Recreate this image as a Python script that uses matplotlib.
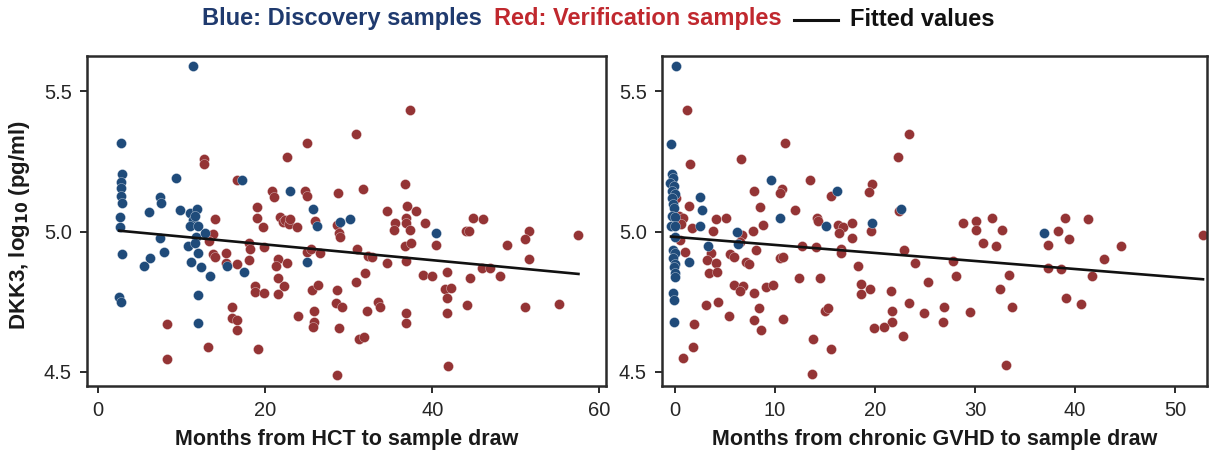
import matplotlib
matplotlib.use("Agg")
import matplotlib.pyplot as plt
from matplotlib import font_manager
from matplotlib.lines import Line2D

# ---------------- data ----------------
hct_blue_x = [11.3, 2.7, 2.9, 2.7, 2.7, 2.7, 2.8, 9.3, 17.2, 7.4, 7.5, 22.9, 25.7, 6.1, 9.8, 11.0, 11.8,
              2.6, 2.6, 11.4, 11.0, 12.0, 11.6, 26.2, 29.0, 30.1, 2.8, 2.5, 2.7, 7.4, 7.9, 6.2, 5.5,
              10.7, 11.7, 11.6, 12.8, 12.0, 11.1, 12.3, 13.4, 12.0, 12.0, 15.4, 17.4, 25.0, 40.5]
hct_blue_y = [5.59, 5.314, 5.205, 5.177, 5.154, 5.126, 5.10, 5.189, 5.183, 5.124, 5.10, 5.145, 5.079, 5.069,
              5.075, 5.065, 5.081, 5.053, 5.017, 5.041, 5.02, 5.02, 5.055, 5.02, 5.033, 5.043, 4.919, 4.768,
              4.75, 4.976, 4.928, 4.905, 4.878, 4.95, 4.98, 4.958, 4.996, 4.925, 4.893, 4.873, 4.843, 4.774,
              4.673, 4.877, 4.857, 4.893, 4.996]

hct_red_x = [12.7, 12.7, 22.6, 25.0, 16.6, 20.8, 21.1, 24.8, 25.0, 28.7, 19.0, 14.0, 19.0, 19.7, 21.8, 22.1,
             22.4, 22.8, 23.0, 23.8, 25.9, 28.6, 28.8, 29.0, 13.7, 13.2, 13.7, 14.0, 15.3, 15.3, 16.6, 18.0,
             18.2, 18.0, 19.8, 18.8, 18.8, 19.8, 21.5, 21.3, 22.6, 21.5, 22.3, 21.5, 25.0, 25.5, 26.5, 25.6,
             26.3, 28.6, 28.5, 29.2, 25.8, 25.8, 25.7, 28.8, 23.9, 16.0, 16.0, 16.6, 16.6, 8.2, 8.2, 13.1,
             19.1, 28.6,
             37.3, 30.9, 31.7, 36.7, 37.0, 38.1, 34.6, 44.9, 46.1,
             36.9, 36.9, 35.5, 35.4, 37.3, 39.1, 31.0, 32.3, 32.8, 34.6, 36.9, 36.7, 37.5, 40.4, 44.0, 44.4,
             51.6, 51.1, 49.0, 51.6, 57.4,
             38.9, 40.0, 41.8, 41.5, 42.2, 41.7, 41.7, 44.5, 46.0, 46.9, 48.1, 44.2, 51.1, 55.2, 36.9, 36.9,
             31.9, 30.9, 32.2, 33.5, 33.7, 31.2, 31.8, 41.9]
hct_red_y = [5.257, 5.24, 5.266, 5.317, 5.183, 5.145, 5.124, 5.145, 5.126, 5.136, 5.088, 5.044, 5.047, 5.015,
             5.053, 5.035, 5.041, 5.027, 5.044, 5.017, 5.037, 5.023, 4.996, 4.981, 4.991, 4.968, 4.919, 4.908,
             4.922, 4.889, 4.884, 4.96, 4.937, 4.899, 4.944, 4.806, 4.786, 4.78, 4.901, 4.877, 4.887, 4.833,
             4.806, 4.778, 4.928, 4.937, 4.925, 4.792, 4.81, 4.792, 4.744, 4.73, 4.718, 4.679, 4.661, 4.656,
             4.70, 4.73, 4.691, 4.685, 4.649, 4.67, 4.545, 4.588, 4.581, 4.489,
             5.432, 5.346, 5.15, 5.168, 5.091, 5.074, 5.073, 5.049, 5.044,
             5.047, 5.031, 5.031, 5.005, 5.005, 5.029, 4.937, 4.913, 4.911, 4.889, 4.896, 4.95, 4.96, 4.952,
             5.003, 5.001, 5.002, 4.974, 4.952, 4.901, 4.988,
             4.845, 4.842, 4.855, 4.795, 4.80, 4.762, 4.709, 4.833, 4.869, 4.869, 4.842, 4.737, 4.732, 4.741,
             4.711, 4.675, 4.851, 4.819, 4.717, 4.748, 4.73, 4.616, 4.626, 4.522]

hct_fit_x = [2.5, 57.5]
hct_fit_y = [5.003, 4.849]

gvhd_blue_x = [0.07, -0.43, -0.33, -0.17, -0.5, -0.07, -0.33, 0.0, -0.33, -0.17, -0.07, -0.33, 0.0, -0.4,
               0.0, 0.0, -0.17, 0.0, -0.17, 0.05, -0.07, 0.0, 0.05, -0.17, -0.07, -0.07,
               2.5, 2.7, 9.6, 16.2, 10.5, 22.6, 2.5, 15.1, 19.7, 6.2, 6.3, 3.3, 1.4, 36.9]
gvhd_blue_y = [5.589, 5.313, 5.206, 5.192, 5.174, 5.163, 5.146, 5.135, 5.121, 5.099, 5.085, 5.057, 5.05,
               5.021, 5.018, 4.979, 4.933, 4.922, 4.904, 4.886, 4.872, 4.854, 4.837, 4.78, 4.755, 4.677,
               5.124, 5.075, 5.185, 5.145, 5.047, 5.079, 5.018, 5.021, 5.029, 4.998, 4.956, 4.95, 4.893, 4.995]

gvhd_red_x = [1.2, 1.5, 6.6, 11.0, 22.3, 13.5, 10.7, 10.5, 7.9, 15.6, 19.7, 19.4, 8.5, 12.0, 1.4, 0.1, 0.4,
              0.8, 0.6, 4.1, 5.1, 14.2, 14.3, 22.4, 23.4,
              28.8, 30.1, 30.1, 31.7, 32.7, 38.3, 39.0, 41.3, 39.4, 37.3, 30.8, 32.1, 44.6, 42.9, 22.9, 24.0,
              27.8, 28.1, 25.3, 33.4, 32.5, 37.3, 38.6, 41.7, 39.1, 40.6, 23.4, 24.9, 26.9, 26.8, 29.5, 33.7,
              22.8, 33.1, 52.8,
              1.7, 3.8, 6.7, 7.8, 8.8, 16.3, 16.8, 16.4, 17.7, 17.7, 19.6, 0.5, 1.0, 3.6, 3.2, 4.1, 3.4, 4.2,
              5.5, 5.9, 6.5, 8.1, 7.1, 7.4, 10.5, 10.8, 12.7, 14.1, 16.6, 16.6, 18.3, 12.4, 14.5, 5.9, 6.8,
              6.5, 7.9, 9.1, 9.8, 18.6, 18.6, 19.5, 21.6, 3.1, 4.3, 8.4, 5.4, 7.9, 8.6, 10.8, 15.0, 15.3,
              21.7, 21.7, 19.9, 20.9, 1.9, 1.8, 0.8, 13.8, 15.6, 13.7]
gvhd_red_y = [5.431, 5.24, 5.257, 5.316, 5.265, 5.185, 5.152, 5.136, 5.143, 5.128, 5.169, 5.142, 5.086, 5.075,
              5.091, 5.12, 5.057, 5.047, 5.027, 5.043, 5.047, 5.047, 5.039, 5.074, 5.346,
              5.029, 5.036, 5.004, 5.047, 5.006, 5.002, 5.049, 5.043, 4.975, 4.951, 4.958, 4.95, 4.95, 4.902,
              4.936, 4.889, 4.896, 4.843, 4.82, 4.844, 4.796, 4.871, 4.867, 4.84, 4.763, 4.742, 4.744, 4.71,
              4.731, 4.677, 4.712, 4.731, 4.628, 4.523, 4.988,
              5.013, 5.001, 4.989, 5.001, 5.025, 5.025, 5.015, 4.994, 5.031, 4.978, 5.001, 4.971, 4.927, 4.923,
              4.9, 4.887, 4.853, 4.855, 4.921, 4.911, 4.962, 4.935, 4.891, 4.883, 4.907, 4.911, 4.947, 4.944,
              4.939, 4.923, 4.879, 4.833, 4.833, 4.808, 4.805, 4.79, 4.781, 4.802, 4.808, 4.812, 4.779, 4.794,
              4.79, 4.74, 4.748, 4.729, 4.7, 4.686, 4.651, 4.687, 4.717, 4.729, 4.717, 4.678, 4.656, 4.66,
              4.67, 4.589, 4.548, 4.616, 4.581, 4.491]

gvhd_fit_x = [-0.4, 52.8]
gvhd_fit_y = [4.982, 4.830]

left_xticks = [0, 20, 40, 60]
right_xticks = [0, 10, 20, 30, 40, 50]
yticks = [4.5, 5.0, 5.5]
ytick_labels = ["4.5", "5.0", "5.5"]

left_xlabel = "Months from HCT to sample draw"
right_xlabel = "Months from chronic GVHD to sample draw"
ylabel = "DKK3, log$_{\\mathbf{10}}$ (pg/ml)"
title_parts = ["Blue: Discovery samples", "Red: Verification samples", "Fitted values"]

# ---------------- style ----------------
BLUE = "#1f4b7a"
RED = "#943435"
TITLE_BLUE = "#1f3a6e"
TITLE_RED = "#c0282e"
SPINE = "#2b2b2b"

names = {f.name for f in font_manager.fontManager.ttflist}
plt.rcParams["font.family"] = ["Liberation Sans", "DejaVu Sans"]
title_family = "Liberation Sans Narrow" if "Liberation Sans Narrow" in names else "Liberation Sans"

W, H = 1213, 455
fig = plt.figure(figsize=(W / 100, H / 100), dpi=100)

def px_axes(x0, x1, y0, y1):
    return fig.add_axes([x0 / W, 1 - y1 / H, (x1 - x0) / W, (y1 - y0) / H])

ax1 = px_axes(87, 606, 56, 386)
ax2 = px_axes(662, 1207, 56, 386)

def style(ax, xlim, xticks, xlabel):
    ax.set_xlim(*xlim)
    ax.set_ylim(4.450, 5.625)
    ax.set_xticks(xticks)
    ax.set_yticks(yticks)
    ax.set_yticklabels(ytick_labels)
    for s in ax.spines.values():
        s.set_linewidth(1.8)
        s.set_color(SPINE)
    ax.tick_params(direction="out", length=5, width=1.4, color=SPINE,
                   labelsize=14.5, labelcolor="#262626", pad=6)
    ax.set_xlabel(xlabel, fontsize=15.5, fontweight="bold", color="#1a1a1a", labelpad=6)

ms = 52
ax1.scatter(hct_red_x, hct_red_y, s=ms, color=RED, edgecolors="#f4e6e6", linewidths=0.25, zorder=2)
ax1.scatter(hct_blue_x, hct_blue_y, s=ms, color=BLUE, edgecolors="#e6ecf4", linewidths=0.25, zorder=2)
ax1.plot(hct_fit_x, hct_fit_y, color="#111111", lw=1.9, zorder=3)
style(ax1, (-1.35, 60.8), left_xticks, left_xlabel)

ax2.scatter(gvhd_red_x, gvhd_red_y, s=ms, color=RED, edgecolors="#f4e6e6", linewidths=0.25, zorder=2)
ax2.scatter(gvhd_blue_x, gvhd_blue_y, s=ms, color=BLUE, edgecolors="#e6ecf4", linewidths=0.25, zorder=2)
ax2.plot(gvhd_fit_x, gvhd_fit_y, color="#111111", lw=1.9, zorder=3)
style(ax2, (-1.3, 53.2), right_xticks, right_xlabel)

fig.text(20 / W, 1 - 225 / H, ylabel, rotation=90, ha="center", va="center",
         fontsize=16, fontweight="bold", color="#1a1a1a")

# ---------------- title line ----------------
fig.canvas.draw()
renderer = fig.canvas.get_renderer()
tsize = 18.5 if title_family.endswith("Narrow") else 17
colors = [TITLE_BLUE, TITLE_RED, "#111111"]
texts = []
for t, c in zip(title_parts, colors):
    tx = fig.text(0, 1 - 19 / H, t, ha="left", va="center", fontsize=tsize,
                  fontweight="bold", color=c, family=title_family)
    texts.append(tx)
widths = [tx.get_window_extent(renderer).width for tx in texts]
gap = 12
line_len = 44
total = widths[0] + gap + widths[1] + gap + line_len + gap + widths[2]
x = 598 - total / 2
texts[0].set_x(x / W); x += widths[0] + gap
texts[1].set_x(x / W); x += widths[1] + gap
fig.add_artist(Line2D([x / W, (x + line_len) / W], [1 - 20 / H, 1 - 20 / H],
                      color="#111111", lw=2.2, transform=fig.transFigure))
x += line_len + gap
texts[2].set_x(x / W)

fig.savefig("out.png", dpi=100)
